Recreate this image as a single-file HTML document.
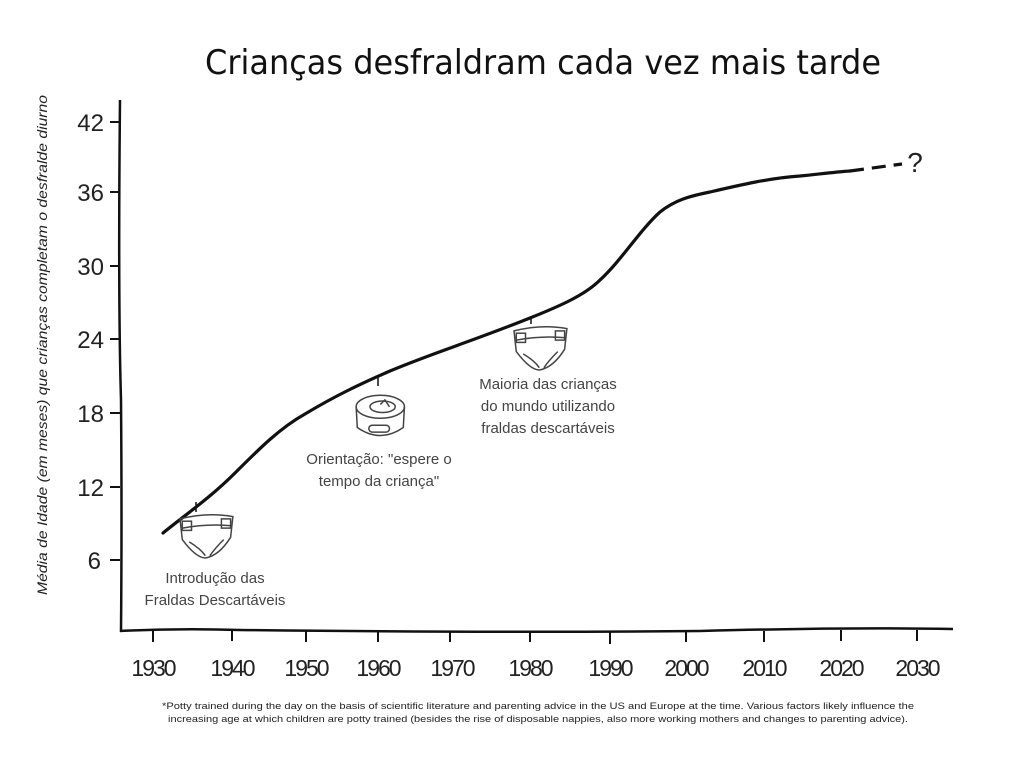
<!DOCTYPE html>
<html><head><meta charset="utf-8"><style>
html,body{margin:0;padding:0;background:#fff;}
svg{display:block;}
text{font-family:"Liberation Sans","DejaVu Sans",sans-serif;fill:#222;}
</style></head><body>
<svg width="1024" height="762" viewBox="0 0 1024 762" xmlns="http://www.w3.org/2000/svg">
<text x="543" y="74" font-size="34" text-anchor="middle" textLength="676" lengthAdjust="spacingAndGlyphs" style="font-family:'DejaVu Sans',sans-serif;fill:#111">Crianças desfraldram cada vez mais tarde</text>
<text transform="translate(47,345) rotate(-90)" font-size="14" text-anchor="middle" font-style="italic" textLength="500" lengthAdjust="spacingAndGlyphs" fill="#333">Média de Idade (em meses) que crianças completam o desfralde diurno</text>
<path d="M120 100 Q118 300 121 400 Q122 520 121 632" stroke="#111" stroke-width="2.5" fill="none"/>
<g stroke="#111" stroke-width="2">
<line x1="110" y1="122" x2="120" y2="122"/><line x1="110" y1="192" x2="120" y2="192"/>
<line x1="110" y1="266" x2="120" y2="266"/><line x1="110" y1="339" x2="120" y2="339"/>
<line x1="110" y1="413" x2="120" y2="413"/><line x1="110" y1="487" x2="120" y2="487"/>
<line x1="110" y1="560" x2="120" y2="560"/>
</g>
<g font-size="24" text-anchor="end">
<text x="104" y="131">42</text><text x="104" y="201">36</text><text x="104" y="275">30</text>
<text x="104" y="348">24</text><text x="104" y="422">18</text><text x="104" y="496">12</text>
<text x="101" y="569">6</text>
</g>
<path d="M120 631 Q180 628 240 630 Q500 633 700 631 Q850 627 953 629" stroke="#111" stroke-width="2.5" fill="none"/>
<g stroke="#111" stroke-width="2">
<line x1="153" y1="631" x2="153" y2="642"/><line x1="232" y1="630" x2="232" y2="641"/>
<line x1="306" y1="631" x2="306" y2="642"/><line x1="378" y1="631" x2="378" y2="642"/>
<line x1="450" y1="631" x2="450" y2="642"/><line x1="530" y1="631" x2="530" y2="642"/>
<line x1="610" y1="631" x2="610" y2="644"/><line x1="686" y1="631" x2="686" y2="642"/>
<line x1="764" y1="631" x2="764" y2="642"/><line x1="841" y1="630" x2="841" y2="641"/>
<line x1="917" y1="630" x2="917" y2="641"/>
</g>
<g font-size="23" text-anchor="middle" letter-spacing="-2">
<text x="153" y="676">1930</text><text x="232" y="676">1940</text><text x="306" y="676">1950</text>
<text x="378" y="676">1960</text><text x="452" y="676">1970</text><text x="530" y="676">1980</text>
<text x="610" y="676">1990</text><text x="686" y="676">2000</text><text x="764" y="676">2010</text>
<text x="841" y="676">2020</text><text x="917" y="676">2030</text>
</g>
<path d="M163 533 C185 515 210 498 235 473 C260 448 280 428 305 414 C335 396 360 384 390 371 C430 354 470 342 530 318 C560 306 585 295 600 280 C620 262 640 230 660 212 C675 200 690 196 710 192 C740 185 770 178 800 176 C820 174 835 172 850 171" stroke="#111" stroke-width="3.2" fill="none" stroke-linecap="round"/>
<path d="M850 171 L902 164" stroke="#111" stroke-width="3.2" fill="none" stroke-dasharray="14 8"/>
<text x="915" y="172" font-size="28" text-anchor="middle">?</text>
<g stroke="#111" stroke-width="1.5">
<line x1="196" y1="502" x2="196" y2="512"/><line x1="378" y1="376" x2="378" y2="386"/><line x1="531" y1="316" x2="531" y2="324"/>
</g>
<g fill="none" stroke="#444" stroke-width="1.3">
<g transform="translate(180,512) scale(1.15)">
<path d="M0 6 L2 24 Q14 40 22 40 Q34 38 44 22 L46 4 Q24 0 0 6 Z"/>
<path d="M2 14 Q24 10 45 12"/><rect x="2" y="8" width="8" height="8"/><rect x="36" y="6" width="8" height="8"/>
<path d="M8 26 Q18 32 22 38 M38 24 Q30 32 26 38"/>
</g>
<g transform="translate(514,324) scale(1.15)">
<path d="M0 6 L2 24 Q14 40 22 40 Q34 38 44 22 L46 4 Q24 0 0 6 Z"/>
<path d="M2 14 Q24 10 45 12"/><rect x="2" y="8" width="8" height="8"/><rect x="36" y="6" width="8" height="8"/>
<path d="M8 26 Q18 32 22 38 M38 24 Q30 32 26 38"/>
</g>
<g transform="translate(355,393) scale(1.15)">
<ellipse cx="22" cy="12" rx="21" ry="10"/><ellipse cx="24" cy="12" rx="11" ry="5"/>
<path d="M1 12 L2 30 Q22 44 42 30 L43 12"/><rect x="12" y="28" width="18" height="6" rx="3"/>
<path d="M22 10 L26 6 L30 12"/>
</g>
</g>
<g font-size="15" text-anchor="middle">
<text x="215" y="583" style="fill:#444">Introdução das</text>
<text x="215" y="605" style="fill:#444">Fraldas Descartáveis</text>
<text x="379" y="464" style="fill:#444">Orientação: "espere o</text>
<text x="379" y="486" style="fill:#444">tempo da criança"</text>
<text x="548" y="389" style="fill:#444">Maioria das crianças</text>
<text x="548" y="411" style="fill:#444">do mundo utilizando</text>
<text x="548" y="433" style="fill:#444">fraldas descartáveis</text>
</g>
<g font-size="9.5" text-anchor="middle">
<text x="538" y="709" textLength="752" lengthAdjust="spacingAndGlyphs">*Potty trained during the day on the basis of scientific literature and parenting advice in the US and Europe at the time. Various factors likely influence the</text>
<text x="538" y="722" textLength="740" lengthAdjust="spacingAndGlyphs">increasing age at which children are potty trained (besides the rise of disposable nappies, also more working mothers and changes to parenting advice).</text>
</g>
</svg>
</body></html>
